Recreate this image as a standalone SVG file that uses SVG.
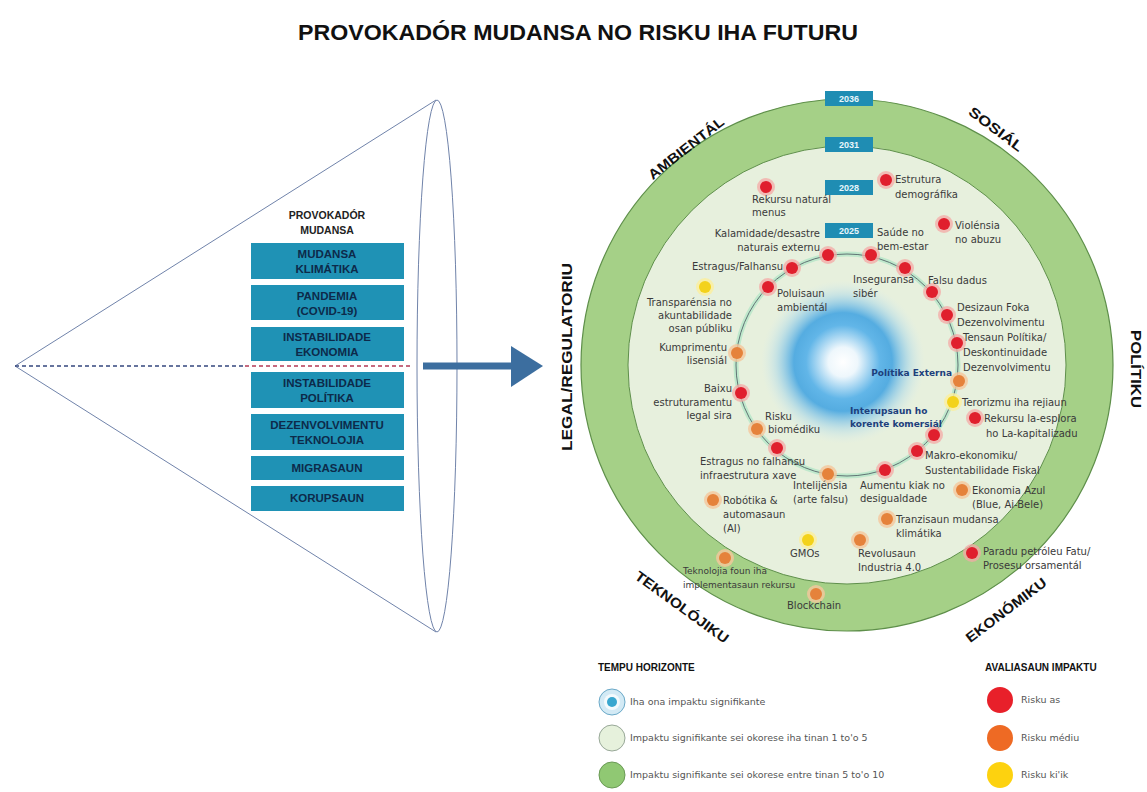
<svg xmlns="http://www.w3.org/2000/svg" width="1147" height="792" viewBox="0 0 1147 792">
<defs>
<style>
.title{font-family:"Liberation Sans",Arial,sans-serif;font-weight:bold;font-size:22px;fill:#111}
.box{fill:#1f92b5}
.bt{font-family:"Liberation Sans",Arial,sans-serif;font-weight:bold;font-size:11.5px;fill:#0d2a4a;text-anchor:middle}
.hd{font-family:"Liberation Sans",Arial,sans-serif;font-weight:bold;font-size:10.5px;fill:#222;text-anchor:middle}
.lbl{font-family:"DejaVu Sans",sans-serif;font-size:10px;fill:#3a3a3a}
.end{text-anchor:end}
.mid{text-anchor:middle}
.blu{fill:#1d3f7c;font-weight:bold}
.sec{font-family:"Liberation Sans",Arial,sans-serif;font-weight:bold;font-size:14px;fill:#111;text-anchor:middle}
.yr{fill:#1f8db3}
.yt{font-family:"Liberation Sans",Arial,sans-serif;font-weight:bold;font-size:9px;fill:#e8f6fb;text-anchor:middle}
.lg{font-family:"DejaVu Sans",sans-serif;font-size:9.5px;fill:#555}
.lh{font-family:"Liberation Sans",Arial,sans-serif;font-weight:bold;font-size:10px;fill:#111}
.r{fill:#e01f2d}.rh{fill:#f4a9a6;opacity:.75}
.o{fill:#e5823b}.oh{fill:#f5c79c;opacity:.8}
.y{fill:#f3d21b}.yh{fill:#faeea0;opacity:.85}
</style>
<radialGradient id="core" cx="0.5" cy="0.5" r="0.5">
<stop offset="0" stop-color="#ffffff"/>
<stop offset="0.18" stop-color="#eef7fc"/>
<stop offset="0.45" stop-color="#62b6e8"/>
<stop offset="0.6" stop-color="#45a5e1" stop-opacity="0.9"/>
<stop offset="0.82" stop-color="#8ccbef" stop-opacity="0.35"/>
<stop offset="1" stop-color="#cfe9f7" stop-opacity="0"/>
</radialGradient>
</defs>
<rect width="1147" height="792" fill="#ffffff"/>
<text class="title" x="578" y="40" text-anchor="middle" textLength="560" lengthAdjust="spacingAndGlyphs">PROVOKADÓR MUDANSA NO RISKU IHA FUTURU</text>

<!-- Cone -->
<g id="cone">
<polyline points="436,100 15,366 436,632" fill="none" stroke="#7083aa" stroke-width="1"/>
<ellipse cx="437" cy="366" rx="20" ry="266" fill="none" stroke="#7083aa" stroke-width="1"/>
</g>
<g id="drivers">
<text class="hd" x="327" y="219">PROVOKADÓR</text>
<text class="hd" x="327" y="234">MUDANSA</text>
<g id="d1"><rect class="box" x="251" y="243" width="153" height="36"/><text class="bt" x="327" y="258">MUDANSA</text><text class="bt" x="327" y="273">KLIMÁTIKA</text></g>
<g id="d2"><rect class="box" x="251" y="285" width="153" height="35"/><text class="bt" x="327" y="300">PANDEMIA</text><text class="bt" x="327" y="315">(COVID-19)</text></g>
<g id="d3"><rect class="box" x="251" y="327" width="153" height="34"/><text class="bt" x="327" y="341">INSTABILIDADE</text><text class="bt" x="327" y="356">EKONOMIA</text></g>
<g id="d4"><rect class="box" x="251" y="372" width="153" height="36"/><text class="bt" x="327" y="387">INSTABILIDADE</text><text class="bt" x="327" y="402">POLÍTIKA</text></g>
<g id="d5"><rect class="box" x="251" y="414" width="153" height="36"/><text class="bt" x="327" y="429">DEZENVOLVIMENTU</text><text class="bt" x="327" y="444">TEKNOLOJIA</text></g>
<g id="d6"><rect class="box" x="251" y="456" width="153" height="24"/><text class="bt" x="327" y="472">MIGRASAUN</text></g>
<g id="d7"><rect class="box" x="251" y="486" width="153" height="25"/><text class="bt" x="327" y="502">KORUPSAUN</text></g>
</g>

<g id="connectors">
<line x1="15" y1="366" x2="245" y2="366" stroke="#34477e" stroke-width="1.5" stroke-dasharray="4 3"/>
<line x1="245" y1="366" x2="411" y2="366" stroke="#b43a55" stroke-width="1.5" stroke-dasharray="4 3"/>
<rect x="423" y="362.5" width="90" height="7" fill="#3c6e9f"/>
<polygon points="511,346 543,366 511,387" fill="#3c6e9f"/>
</g>

<!-- Radar -->
<g id="radar">
<circle cx="847" cy="365" r="266" fill="#a5d087" stroke="#5e8f4a" stroke-width="1.2"/>
<circle cx="847" cy="365" r="219" fill="#e7f0dd" stroke="#5e8f4a" stroke-width="1"/>
<circle cx="843" cy="362" r="82" fill="url(#core)"/>
<circle cx="847" cy="365" r="111" fill="none" stroke="#bfe8cc" stroke-width="5"/>
<circle cx="847" cy="365" r="111" fill="none" stroke="#55676a" stroke-width="0.9"/>
<g id="years">
<rect class="yr" x="825" y="91" width="48" height="15"/><text class="yt" x="849" y="102">2036</text>
<rect class="yr" x="825" y="137" width="48" height="15"/><text class="yt" x="849" y="148">2031</text>
<rect class="yr" x="825" y="180" width="48" height="15"/><text class="yt" x="849" y="191">2028</text>
<rect class="yr" x="825" y="223" width="48" height="15"/><text class="yt" x="849" y="234">2025</text>
</g>
</g>

<g id="sectors">
<text class="sec" transform="translate(686,148) rotate(-38)" y="5" textLength="92" lengthAdjust="spacingAndGlyphs">AMBIENTÁL</text>
<text class="sec" transform="translate(996,129) rotate(37)" y="5" textLength="64" lengthAdjust="spacingAndGlyphs">SOSIÁL</text>
<text class="sec" transform="translate(1136,369) rotate(90)" y="5" textLength="78" lengthAdjust="spacingAndGlyphs">POLÍTIKU</text>
<text class="sec" transform="translate(567,357) rotate(-90)" y="5" textLength="188" lengthAdjust="spacingAndGlyphs">LEGAL/REGULATORIU</text>
<text class="sec" transform="translate(682,607) rotate(36)" y="5" textLength="112" lengthAdjust="spacingAndGlyphs">TEKNOLÓJIKU</text>
<text class="sec" transform="translate(1006,610) rotate(-37)" y="5" textLength="97" lengthAdjust="spacingAndGlyphs">EKONÓMIKU</text>
</g>

<g id="n1"><circle class="rh" cx="766" cy="187" r="9"/><circle class="r" cx="766" cy="187" r="6"/><text class="lbl" x="752" y="203">Rekursu naturál</text><text class="lbl" x="752" y="216">menus</text></g>
<g id="n2"><circle class="rh" cx="886" cy="180" r="9"/><circle class="r" cx="886" cy="180" r="6"/><text class="lbl" x="895" y="183">Estrutura</text><text class="lbl" x="895" y="198">demográfika</text></g>
<g id="n3"><circle class="rh" cx="944" cy="224" r="9"/><circle class="r" cx="944" cy="224" r="6"/><text class="lbl" x="955" y="229">Violénsia</text><text class="lbl" x="955" y="243">no abuzu</text></g>
<g id="n4"><circle class="rh" cx="828" cy="255" r="9"/><circle class="r" cx="828" cy="255" r="6"/><text class="lbl end" x="820" y="237">Kalamidade/desastre</text><text class="lbl end" x="820" y="251">naturais externu</text></g>
<g id="n5"><circle class="rh" cx="871" cy="255" r="9"/><circle class="r" cx="871" cy="255" r="6"/><text class="lbl" x="877" y="236">Saúde no</text><text class="lbl" x="877" y="250">bem-estar</text></g>
<g id="n6"><circle class="rh" cx="792" cy="268" r="9"/><circle class="r" cx="792" cy="268" r="6"/><text class="lbl end" x="783" y="270">Estragus/Falhansu</text></g>
<g id="n7"><circle class="rh" cx="768" cy="287" r="9"/><circle class="r" cx="768" cy="287" r="6"/><text class="lbl" x="777" y="297">Poluisaun</text><text class="lbl" x="777" y="311">ambientál</text></g>
<g id="n8"><circle class="rh" cx="905" cy="268" r="9"/><circle class="r" cx="905" cy="268" r="6"/><text class="lbl" x="853" y="283">Inseguransa</text><text class="lbl" x="853" y="297">sibér</text></g>
<g id="n9"><circle class="rh" cx="932" cy="292" r="9"/><circle class="r" cx="932" cy="292" r="6"/><text class="lbl" x="928" y="284">Falsu dadus</text></g>
<g id="n10"><circle class="rh" cx="947" cy="315" r="9"/><circle class="r" cx="947" cy="315" r="6"/><text class="lbl" x="957" y="311">Desizaun Foka</text><text class="lbl" x="957" y="326">Dezenvolvimentu</text></g>
<g id="n11"><circle class="rh" cx="957" cy="343" r="9"/><circle class="r" cx="957" cy="343" r="6"/><text class="lbl" x="963" y="341">Tensaun Polítika/</text><text class="lbl" x="963" y="356">Deskontinuidade</text><text class="lbl" x="963" y="371">Dezenvolvimentu</text></g>
<g id="n12"><circle class="oh" cx="959" cy="381" r="9"/><circle class="o" cx="959" cy="381" r="6"/><text class="lbl end blu" x="952" y="376" style="font-size:9px">Polítika Externa</text></g>
<g id="n13"><circle class="yh" cx="953" cy="402" r="9"/><circle class="y" cx="953" cy="402" r="6"/><text class="lbl" x="962" y="406">Terorizmu iha rejiaun</text></g>
<g id="n14"><circle class="rh" cx="975" cy="418" r="9"/><circle class="r" cx="975" cy="418" r="6"/><text class="lbl" x="984" y="422">Rekursu la-esplora</text><text class="lbl" x="986" y="437">ho La-kapitalizadu</text></g>
<g id="n15"><circle class="rh" cx="934" cy="435" r="9"/><circle class="r" cx="934" cy="435" r="6"/><text class="lbl blu" x="850" y="414" style="font-size:9px">Interupsaun ho</text><text class="lbl blu" x="850" y="427" style="font-size:9px">korente komersiál</text></g>
<g id="n16"><circle class="rh" cx="917" cy="451" r="9"/><circle class="r" cx="917" cy="451" r="6"/><text class="lbl" x="925" y="459">Makro-ekonomiku/</text><text class="lbl" x="925" y="474">Sustentabilidade Fiskal</text></g>
<g id="n17"><circle class="rh" cx="885" cy="470" r="9"/><circle class="r" cx="885" cy="470" r="6"/><text class="lbl" x="860" y="489">Aumentu kiak no</text><text class="lbl" x="860" y="502">desigualdade</text></g>
<g id="n18"><circle class="oh" cx="962" cy="490" r="9"/><circle class="o" cx="962" cy="490" r="6"/><text class="lbl" x="972" y="494">Ekonomia Azul</text><text class="lbl" x="972" y="508">(Blue, Ai-Bele)</text></g>
<g id="n19"><circle class="oh" cx="887" cy="519" r="9"/><circle class="o" cx="887" cy="519" r="6"/><text class="lbl" x="896" y="523">Tranzisaun mudansa</text><text class="lbl" x="896" y="537">klimátika</text></g>
<g id="n20"><circle class="oh" cx="860" cy="540" r="9"/><circle class="o" cx="860" cy="540" r="6"/><text class="lbl" x="858" y="557">Revolusaun</text><text class="lbl" x="858" y="571">Industria 4.0</text></g>
<g id="n21"><circle class="rh" cx="972" cy="553" r="9"/><circle class="r" cx="972" cy="553" r="6"/><text class="lbl" x="983" y="555">Paradu petróleu Fatu/</text><text class="lbl" x="983" y="569">Prosesu orsamentál</text></g>
<g id="n22"><circle class="yh" cx="808" cy="540" r="9"/><circle class="y" cx="808" cy="540" r="6"/><text class="lbl" x="790" y="557">GMOs</text></g>
<g id="n23"><circle class="oh" cx="725" cy="558" r="9"/><circle class="o" cx="725" cy="558" r="6"/><text class="lbl" x="683" y="574" style="font-size:9px">Teknolojia foun iha</text><text class="lbl" x="683" y="588" style="font-size:9px">implementasaun rekursu</text></g>
<g id="n24"><circle class="oh" cx="816" cy="594" r="9"/><circle class="o" cx="816" cy="594" r="6"/><text class="lbl" x="787" y="609">Blockchain</text></g>
<g id="n25"><circle class="oh" cx="713" cy="500" r="9"/><circle class="o" cx="713" cy="500" r="6"/><text class="lbl" x="723" y="504">Robótika &amp;</text><text class="lbl" x="723" y="518">automasaun</text><text class="lbl" x="723" y="532">(AI)</text></g>
<g id="n26"><circle class="oh" cx="828" cy="474" r="9"/><circle class="o" cx="828" cy="474" r="6"/><text class="lbl" x="793" y="489">Intelijénsia</text><text class="lbl" x="793" y="503">(arte falsu)</text></g>
<g id="n27"><circle class="rh" cx="777" cy="448" r="9"/><circle class="r" cx="777" cy="448" r="6"/><text class="lbl" x="700" y="465">Estragus no falhansu</text><text class="lbl" x="700" y="479">infraestrutura xave</text></g>
<g id="n28"><circle class="oh" cx="757" cy="429" r="9"/><circle class="o" cx="757" cy="429" r="6"/><text class="lbl" x="765" y="420">Risku</text><text class="lbl" x="768" y="433">biomédiku</text></g>
<g id="n29"><circle class="rh" cx="741" cy="393" r="9"/><circle class="r" cx="741" cy="393" r="6"/><text class="lbl end" x="732" y="392">Baixu</text><text class="lbl end" x="732" y="406">estruturamentu</text><text class="lbl end" x="732" y="419">legal sira</text></g>
<g id="n30"><circle class="oh" cx="737" cy="353" r="9"/><circle class="o" cx="737" cy="353" r="6"/><text class="lbl end" x="727" y="351">Kumprimentu</text><text class="lbl end" x="727" y="364">lisensiál</text></g>
<g id="n31"><circle class="yh" cx="705" cy="287" r="9"/><circle class="y" cx="705" cy="287" r="6"/><text class="lbl end" x="732" y="306">Transparénsia no</text><text class="lbl end" x="732" y="319">akuntabilidade</text><text class="lbl end" x="732" y="332">osan públiku</text></g>

<g id="legend-time">
<text class="lh" x="598" y="671">TEMPU HORIZONTE</text>
<circle cx="612" cy="702" r="13" fill="#d3eaf5" stroke="#6aa9c8" stroke-width="1"/>
<circle cx="612" cy="702" r="8" fill="#f4fafd"/>
<circle cx="612" cy="702" r="5" fill="#3aa7cf"/>
<text class="lg" x="630" y="705">Iha ona impaktu signifikante</text>
<circle cx="612" cy="738" r="13" fill="#e6f1dc" stroke="#98a898" stroke-width="1"/>
<text class="lg" x="630" y="741">Impaktu signifikante sei okorese iha tinan 1 to'o 5</text>
<circle cx="612" cy="775" r="13" fill="#90c873" stroke="#6a9a55" stroke-width="1"/>
<text class="lg" x="630" y="778">Impaktu signifikante sei okorese entre tinan  5 to'o 10</text>
</g>
<g id="legend-impact">
<text class="lh" x="985" y="671">AVALIASAUN IMPAKTU</text>
<circle cx="1000" cy="700" r="13" fill="#e8202a"/>
<text class="lg" x="1021" y="703">Risku as</text>
<circle cx="1000" cy="738" r="13" fill="#ee6a24"/>
<text class="lg" x="1021" y="741">Risku médiu</text>
<circle cx="1000" cy="775" r="13" fill="#fdd20f"/>
<text class="lg" x="1021" y="778">Risku ki'ik</text>
</g>
</svg>
